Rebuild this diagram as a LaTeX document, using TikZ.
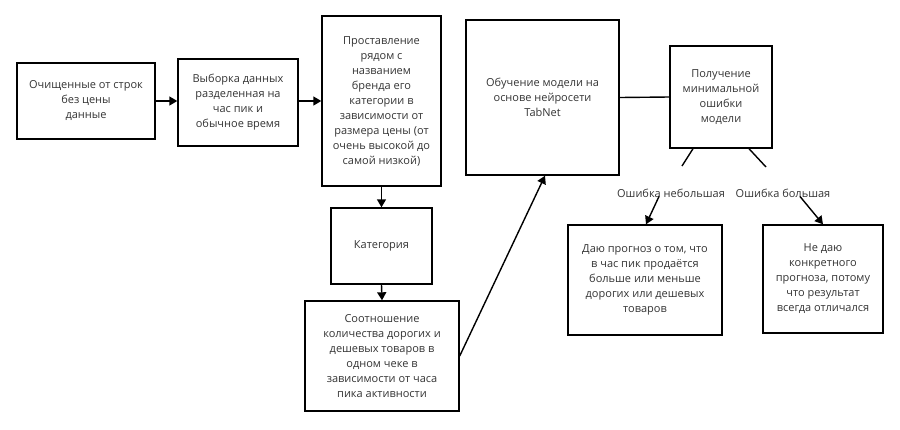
\documentclass[tikz,border=0pt]{standalone}
\usepackage{fontspec}
\setmainfont{Open Sans}
\usetikzlibrary{arrows.meta}
\definecolor{txt}{HTML}{333333}
\begin{document}
\begin{tikzpicture}[x=1pt,y=-1pt,
  box/.style={draw, line width=1.4pt, align=center, inner sep=0pt, text=txt,
    font=\fontsize{11}{15}\selectfont},
  lbl/.style={align=center, inner sep=1pt, text=txt, font=\fontsize{11}{15}\selectfont},
  conn/.style={line width=1.4pt},
  arr/.style={line width=1.4pt, -{Triangle[width=9pt,length=8pt]}}]
\useasboundingbox (0,0) rectangle (900,429);
\node[box, minimum width=138pt, minimum height=76pt] (b1) at (86,101)
  {Очищенные от строк\\без цены\\данные};
\node[box, minimum width=120pt, minimum height=87pt] (b2) at (238,102.5)
  {Выборка данных\\разделенная на\\час пик и\\обычное время};
\node[box, minimum width=119pt, minimum height=170pt] (b3) at (381.5,101)
  {Проставление\\рядом с\\названием\\бренда его\\категории в\\зависимости от\\размера цены (от\\очень высокой до\\самой низкой)};
\node[box, minimum width=101pt, minimum height=76pt] (b4) at (381.5,246)
  {Категория};
\node[box, minimum width=154pt, minimum height=110pt] (b5) at (382,356)
  {Соотношение\\количества дорогих и\\дешевых товаров в\\одном чеке в\\зависимости от часа\\пика активности};
\node[box, minimum width=153pt, minimum height=155pt] (b6) at (542.5,97.5)
  {Обучение модели на\\основе нейросети\\TabNet};
\node[box, minimum width=102pt, minimum height=102pt] (b7) at (721,97)
  {Получение\\минимальной\\ошибки\\модели};
\node[box, minimum width=154pt, minimum height=110pt] (b8) at (645,280)
  {Даю прогноз о том, что\\в час пик продаётся\\больше или меньше\\дорогих или дешевых\\товаров};
\node[box, minimum width=120pt, minimum height=108pt] (b9) at (823,279)
  {Не даю\\конкретного\\прогноза, потому\\что результат\\всегда отличался};
\node[lbl] (l1) at (671,193) {Ошибка небольшая};
\node[lbl] (l2) at (783,193) {Ошибка большая};
\coordinate (e1) at (682,166);
\coordinate (e2) at (766,167);
\draw[arr] (b1.east) -- (b2.west |- b1.east);
\draw[arr] (b2.east |- b3.west) -- (b3.west);
\draw[arr] (b3.south) -- (b4.north);
\draw[arr] (b4.south) -- (b5.north);
\draw[arr] (b5.east) -- ([xshift=2.5pt]b6.south);
\draw[conn] (b6.east) -- (b7.west);
\draw[conn] ([xshift=-28pt]b7.south) -- (e1);
\draw[conn] ([xshift=28pt]b7.south) -- (e2);
\draw[arr] ([xshift=-12pt,yshift=2pt]l1.south) -- ([xshift=1pt]b8.north);
\draw[arr] ([xshift=17pt,yshift=2pt]l2.south) -- (b9.north);
\end{tikzpicture}
\end{document}
